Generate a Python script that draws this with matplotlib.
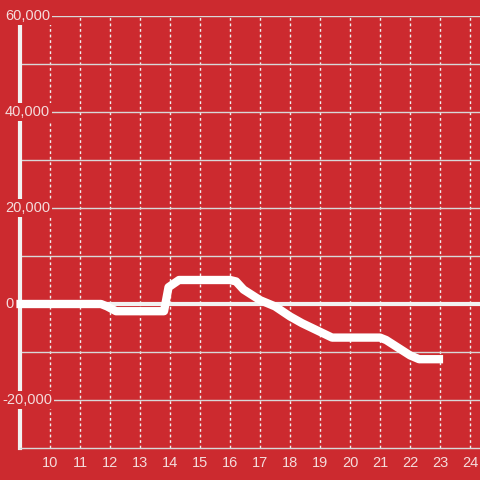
import matplotlib
matplotlib.use("Agg")
import matplotlib.pyplot as plt
from matplotlib.transforms import blended_transform_factory

# series
hours = [8.88, 11.7, 11.9, 12.2, 13.8, 13.95, 14.3, 16.0, 16.2, 16.45, 17.0,
         17.5, 18.0, 18.4, 19.0, 19.4, 20.0, 21.0, 21.2, 22.0, 22.3, 23.1]
values = [0, 0, -500, -1500, -1500, 3500, 5000, 5000, 4700, 3000, 800,
          -500, -2600, -4000, -5800, -7000, -7000, -7000, -7500, -10700, -11500, -11500]

x_ticks = list(range(10, 25))
y_ticks = [-20000, 0, 20000, 40000, 60000]
y_minor = [-10000, 10000, 30000, 50000]

bg = "#cc2a2f"
txt = "#f4dcdc"

plt.rcParams["font.family"] = ["Liberation Sans", "DejaVu Sans"]

fig = plt.figure(figsize=(4.8, 4.8), dpi=100, facecolor=bg)
ax = fig.add_axes([20 / 480, 32 / 480, 460 / 480, 432 / 480], facecolor=bg)
ax.set_xlim(9, 24.33)
ax.set_ylim(-30000, 60000)

# grid
for x in x_ticks:
    ax.axvline(x, color="#f0f0f0", lw=1, ls=(0, (2, 2)), zorder=1)
for y in y_ticks + y_minor:
    if y == 0:
        ax.axhline(y, color="#f2f2f2", lw=3, zorder=2)
    else:
        ax.axhline(y, color="#d8d8d8", lw=1, zorder=1)

ax.plot(hours, values, color="white", lw=6, solid_joinstyle="round",
        solid_capstyle="butt", zorder=3, clip_on=False)

for s in ["top", "right"]:
    ax.spines[s].set_visible(False)
ax.spines["left"].set_color("#f2f2f2")
ax.spines["left"].set_linewidth(3)
ax.spines["left"].set_zorder(2)
ax.spines["bottom"].set_color("#d8d8d8")
ax.spines["bottom"].set_linewidth(1)

ax.set_xticks(x_ticks)
ax.set_xticklabels([str(x) for x in x_ticks])
ax.set_yticks([])
ax.tick_params(axis="x", length=0, pad=6, labelsize=10.5, labelcolor=txt)

# y labels sit on top of the axis with a background box
tr = blended_transform_factory(fig.transFigure, ax.transData)
for y in y_ticks:
    ax.text(5 / 480 if y >= 0 else 2 / 480, y, f"{y:,}".replace("-", "-"),
            transform=tr, ha="left", va="center", fontsize=10.5, color=txt,
            zorder=5, clip_on=False,
            bbox=dict(facecolor=bg, edgecolor="none", pad=1.5))

fig.savefig("out.png", dpi=100, facecolor=bg)
